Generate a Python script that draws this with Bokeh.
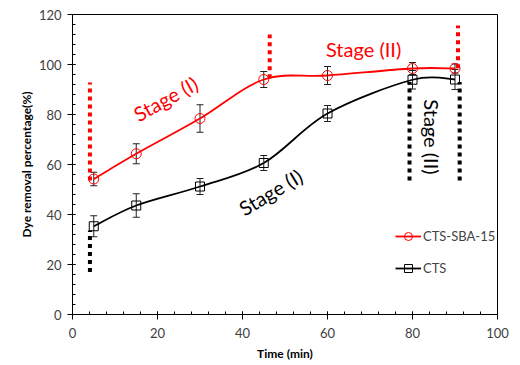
import numpy as np
from bokeh.plotting import figure
from bokeh.models import (ColumnDataSource, Whisker, TeeHead, Legend, LegendItem, Range1d,
                          SingleIntervalTicker)
from bokeh.core.properties import value
from bokeh.embed import file_html
from bokeh.resources import INLINE

# ---- data ----
time = [5, 15, 30, 45, 60, 80, 90]
sba_removal = [54.2, 64.3, 78.4, 94.0, 95.6, 98.4, 98.4]
sba_err = [2.7, 4.0, 5.5, 3.2, 3.6, 2.4, 1.8]
cts_removal = [35.3, 43.6, 51.2, 60.6, 80.4, 93.9, 94.0]
cts_err = [4.2, 4.7, 3.2, 3.0, 3.2, 3.7, 4.0]

# stage boundary markers (x, y_start, y_end)
red_bound_x = [4.1, 46.4, 90.7]
red_bound_y0 = [53.6, 94.5, 98.5]
red_bound_y1 = [92.8, 112.0, 115.6]
blk_bound_x = [4.1, 79.3, 91.1]
blk_bound_y0 = [17.0, 53.6, 53.6]
blk_bound_y1 = [33.6, 93.0, 93.0]

# stage labels
red_lab_text = ["Stage (I)", "Stage (II)"]
red_lab_x = [21.9, 68.5]
red_lab_y = [86.4, 106.4]
red_lab_ang = [np.deg2rad(29), 0.0]
blk_lab_text = ["Stage (I)", "Stage (II)"]
blk_lab_x = [46.6, 84.6]
blk_lab_y = [49.0, 71.0]
blk_lab_ang = [np.deg2rad(31), -np.pi / 2]

FONT = "Lato"


def smooth_segments(xs, ys):
    """Excel-style smoothed line: cubic Bezier segments (Catmull-Rom control points)."""
    xs = np.asarray(xs, float)
    ys = np.asarray(ys, float)
    n = len(xs)
    d = dict(x0=[], y0=[], x1=[], y1=[], cx0=[], cy0=[], cx1=[], cy1=[])
    for i in range(n - 1):
        p0 = (xs[max(i - 1, 0)], ys[max(i - 1, 0)])
        p1 = (xs[i], ys[i])
        p2 = (xs[i + 1], ys[i + 1])
        p3 = (xs[min(i + 2, n - 1)], ys[min(i + 2, n - 1)])
        d["x0"].append(p1[0]); d["y0"].append(p1[1])
        d["x1"].append(p2[0]); d["y1"].append(p2[1])
        d["cx0"].append(p1[0] + (p2[0] - p0[0]) / 6)
        d["cy0"].append(p1[1] + (p2[1] - p0[1]) / 6)
        d["cx1"].append(p2[0] - (p3[0] - p1[0]) / 6)
        d["cy1"].append(p2[1] - (p3[1] - p1[1]) / 6)
    return ColumnDataSource(d)


p = figure(width=512, height=364, output_backend="svg", toolbar_location=None,
           x_range=Range1d(0, 100), y_range=Range1d(0, 120),
           min_border_left=72, min_border_right=15, min_border_top=14, min_border_bottom=50)
p.xgrid.visible = False
p.ygrid.visible = False
p.outline_line_color = "black"
p.outline_line_width = 1
p.background_fill_color = "white"
p.border_fill_color = "white"

for ax in (p.xaxis[0], p.yaxis[0]):
    ax.axis_line_color = "black"
    ax.major_tick_line_color = "black"
    ax.minor_tick_line_color = "black"
    ax.major_label_text_font = FONT
    ax.major_label_text_font_size = "13px"
    ax.major_label_text_color = "#404040"
    ax.axis_label_text_font = FONT
    ax.axis_label_text_font_size = "12px"
    ax.axis_label_text_font_style = "bold"
    ax.axis_label_text_color = "black"
    ax.major_tick_in = 3
    ax.major_tick_out = 5
    ax.minor_tick_in = 3
    ax.minor_tick_out = 0
p.xaxis[0].ticker = SingleIntervalTicker(interval=20, num_minor_ticks=5)
p.yaxis[0].ticker = SingleIntervalTicker(interval=20, num_minor_ticks=5)
p.xaxis.axis_label = "Time (min)"
p.yaxis.axis_label = "Dye removal percentage(%)"
p.xaxis.major_label_standoff = 8
p.yaxis.major_label_standoff = 6
p.xaxis.axis_label_standoff = 5
p.yaxis.axis_label_standoff = 2

# dotted stage boundaries
p.segment(x0=red_bound_x, y0=red_bound_y0, x1=red_bound_x, y1=red_bound_y1,
          line_color="#FF0000", line_width=4, line_dash="4 4")
p.segment(x0=blk_bound_x, y0=blk_bound_y0, x1=blk_bound_x, y1=blk_bound_y1,
          line_color="black", line_width=4, line_dash="4 4")

# error bars
src_sba = ColumnDataSource(dict(x=time, y=sba_removal,
                                lo=[v - e for v, e in zip(sba_removal, sba_err)],
                                hi=[v + e for v, e in zip(sba_removal, sba_err)]))
src_cts = ColumnDataSource(dict(x=time, y=cts_removal,
                                lo=[v - e for v, e in zip(cts_removal, cts_err)],
                                hi=[v + e for v, e in zip(cts_removal, cts_err)]))
for src in (src_sba, src_cts):
    w = Whisker(source=src, base="x", lower="lo", upper="hi", line_color="#222222", line_width=1,
                upper_head=TeeHead(size=7, line_color="#222222", line_width=1),
                lower_head=TeeHead(size=7, line_color="#222222", line_width=1))
    p.add_layout(w)

# smoothed lines
r_sba_line = p.bezier(x0="x0", y0="y0", x1="x1", y1="y1", cx0="cx0", cy0="cy0", cx1="cx1", cy1="cy1",
                      source=smooth_segments(time, sba_removal), line_color="#FF0000", line_width=1.8)
r_cts_line = p.bezier(x0="x0", y0="y0", x1="x1", y1="y1", cx0="cx0", cy0="cy0", cx1="cx1", cy1="cy1",
                      source=smooth_segments(time, cts_removal), line_color="black", line_width=1.8)

r_sba_pts = p.scatter("x", "y", source=src_sba, marker="circle", size=10,
                      line_color="#FF0000", fill_alpha=0, line_width=1)
r_cts_pts = p.scatter("x", "y", source=src_cts, marker="square", size=9,
                      line_color="black", fill_alpha=0, line_width=1)

# stage labels
p.text(x=red_lab_x, y=red_lab_y, text=red_lab_text, angle=red_lab_ang,
       text_color="#FF0000", text_font=value(FONT), text_font_size="20px",
       text_align="center", text_baseline="middle")
p.text(x=blk_lab_x, y=blk_lab_y, text=blk_lab_text, angle=blk_lab_ang,
       text_color="black", text_font=value(FONT), text_font_size="20px",
       text_align="center", text_baseline="middle")

legend = Legend(items=[LegendItem(label="CTS-SBA-15", renderers=[r_sba_line, r_sba_pts]),
                       LegendItem(label="CTS", renderers=[r_cts_line, r_cts_pts])],
                location=(323, 36), orientation="vertical")
legend.border_line_color = None
legend.background_fill_alpha = 0
legend.padding = 0
legend.margin = 0
legend.spacing = 12
legend.glyph_width = 26
legend.glyph_height = 20
legend.label_standoff = 2
legend.label_text_font = FONT
legend.label_text_font_size = "13px"
p.add_layout(legend)

open("out.html", "w").write(file_html(p, INLINE))
